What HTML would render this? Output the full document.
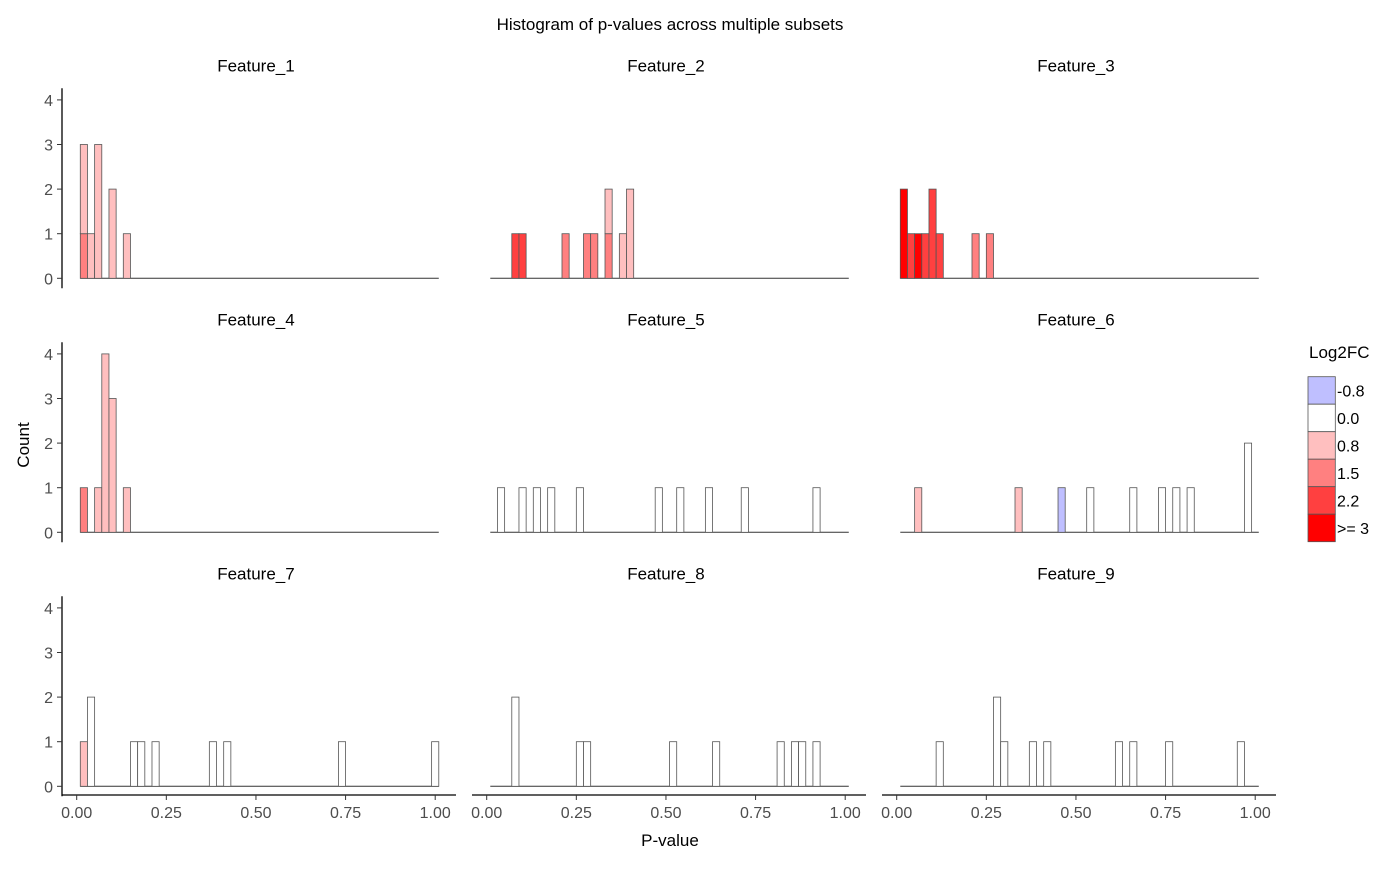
<!DOCTYPE html>
<html><head><meta charset="utf-8"><style>
body{margin:0;background:#fff}
svg text{font-family:"Liberation Sans",sans-serif}
</style></head><body>
<svg id="chart" width="1400" height="865" xmlns="http://www.w3.org/2000/svg">
<text x="670" y="30" text-anchor="middle" font-size="17">Histogram of p-values across multiple subsets</text>
<text x="670" y="846" text-anchor="middle" font-size="17">P-value</text>
<text transform="translate(29,445) rotate(-90)" text-anchor="middle" font-size="17">Count</text>
<g id="panels"></g>
<g id="legend"></g>
</svg>
<script>
const featureNames = ["Feature_1","Feature_2","Feature_3","Feature_4","Feature_5","Feature_6","Feature_7","Feature_8","Feature_9"];
const levelLabels = ["-0.8","0.0","0.8","1.5","2.2",">= 3"];
const levelColors = ["#bfbfff","#ffffff","#ffbfbf","#ff8080","#ff4040","#ff0000"];
const xTicks = [0,0.25,0.5,0.75,1];
const xTickLabels = ["0.00","0.25","0.50","0.75","1.00"];
const yTicks = [0,1,2,3,4];
// segments per panel: [binCenter, count, levelIndex], stacked in order
const f1 = [[0.02,1,3],[0.02,2,2],[0.04,1,2],[0.06,3,2],[0.10,2,2],[0.14,1,2]];
const f2 = [[0.08,1,4],[0.10,1,4],[0.22,1,3],[0.28,1,3],[0.30,1,3],[0.34,1,3],[0.34,1,2],[0.38,1,2],[0.40,2,2]];
const f3 = [[0.02,2,5],[0.04,1,4],[0.06,1,5],[0.08,1,4],[0.10,2,4],[0.12,1,4],[0.22,1,3],[0.26,1,3]];
const f4 = [[0.02,1,3],[0.06,1,2],[0.08,4,2],[0.10,3,2],[0.14,1,2]];
const f5 = [[0.04,1,1],[0.10,1,1],[0.14,1,1],[0.18,1,1],[0.26,1,1],[0.48,1,1],[0.54,1,1],[0.62,1,1],[0.72,1,1],[0.92,1,1]];
const f6 = [[0.06,1,2],[0.34,1,2],[0.46,1,0],[0.54,1,1],[0.66,1,1],[0.74,1,1],[0.78,1,1],[0.82,1,1],[0.98,2,1]];
const f7 = [[0.02,1,2],[0.04,2,1],[0.16,1,1],[0.18,1,1],[0.22,1,1],[0.38,1,1],[0.42,1,1],[0.74,1,1],[1.00,1,1]];
const f8 = [[0.08,2,1],[0.26,1,1],[0.28,1,1],[0.52,1,1],[0.64,1,1],[0.82,1,1],[0.86,1,1],[0.88,1,1],[0.92,1,1]];
const f9 = [[0.12,1,1],[0.28,2,1],[0.30,1,1],[0.38,1,1],[0.42,1,1],[0.62,1,1],[0.66,1,1],[0.76,1,1],[0.96,1,1]];
const panelData = [f1,f2,f3,f4,f5,f6,f7,f8,f9];
const binWidth = 0.02, binMin = 0.01, binMax = 1.01;

const NS="http://www.w3.org/2000/svg";
function mk(tag,attrs,parent){const e=document.createElementNS(NS,tag);for(const k in attrs)e.setAttribute(k,attrs[k]);parent.appendChild(e);return e;}
const colX0=[76.7,486.7,896.7], ppu=358.5, rowY0=[278.3,532.3,786.3], ppc=44.6;
const panels=document.getElementById('panels');
panelData.forEach((segs,i)=>{
  const c=i%3,r=Math.floor(i/3);
  const sx=p=>colX0[c]+p*ppu, sy=v=>rowY0[r]-v*ppc;
  const g=mk('g',{},panels);
  
  
  const st=mk('text',{x:sx(0.5),y:rowY0[r]-207,'text-anchor':'middle','font-size':17},g);
  st.textContent=featureNames[i];
  
  
  const base=mk('line',{x1:sx(binMin),x2:sx(binMax),y1:sy(0),y2:sy(0),stroke:'#333','stroke-width':1},g);
  
  
  const stack={};
  segs.forEach(s=>{
    const b=stack[s[0]]||0;
    const rc=mk('rect',{x:sx(s[0]-binWidth/2),y:sy(b+s[1]),width:binWidth*ppu,height:s[1]*ppc,fill:levelColors[s[2]],stroke:'#555','stroke-width':0.8},g);
    
    
    stack[s[0]]=b+s[1];
  });
  if(c===0){
    const ax=mk('line',{x1:62,x2:62,y1:rowY0[r]-190,y2:rowY0[r]+10,stroke:'#000','stroke-width':1.3},g);
    
    
    yTicks.forEach(t=>{
      mk('line',{x1:57,x2:62,y1:sy(t),y2:sy(t),stroke:'#333'},g);
      const tl=mk('text',{x:53,y:sy(t)+6,'text-anchor':'end','font-size':16,fill:'#4d4d4d'},g);
      tl.textContent=t;
      
      
    });
  }
  if(r===2){
    const ax=mk('line',{x1:sx(-0.041),x2:sx(1.058),y1:795,y2:795,stroke:'#000','stroke-width':1.3},g);
    
    
    xTicks.forEach((t,k)=>{
      mk('line',{x1:sx(t),x2:sx(t),y1:795,y2:800,stroke:'#333'},g);
      const tl=mk('text',{x:sx(t),y:818,'text-anchor':'middle','font-size':16,fill:'#4d4d4d'},g);
      tl.textContent=xTickLabels[k];
      
      
    });
  }
});
const lg=document.getElementById('legend');
const lt=mk('text',{x:1309,y:358,'font-size':17},lg);
lt.textContent='Log2FC';


levelLabels.forEach((l,k)=>{
  const y=376.7+k*27.5;
  const rc=mk('rect',{x:1308,y:y,width:27.3,height:27.5,fill:levelColors[k],stroke:'#555','stroke-width':0.8},lg);
  
  
  const t=mk('text',{x:1337,y:y+20,'font-size':16},lg);
  t.textContent=l;
  
  
});
</script>
</body></html>
